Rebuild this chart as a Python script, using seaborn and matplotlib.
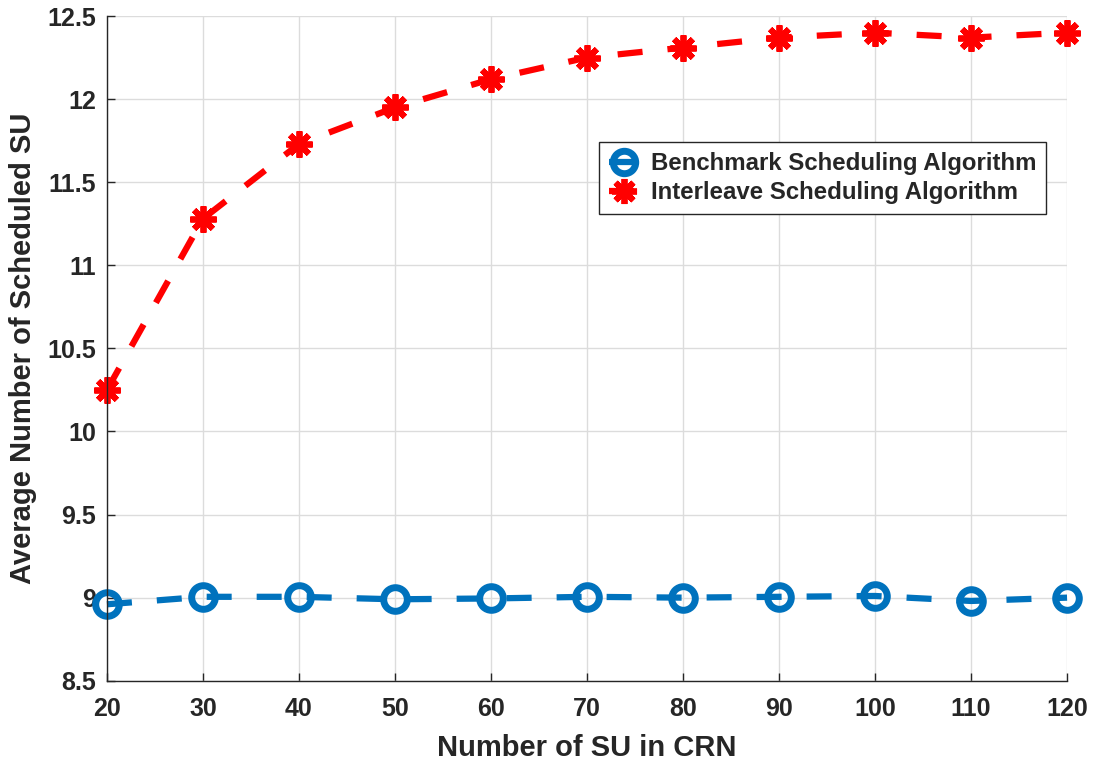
import numpy as np
import pandas as pd
import matplotlib
matplotlib.use("Agg")
import matplotlib.pyplot as plt
import seaborn as sns

num_su = [20, 30, 40, 50, 60, 70, 80, 90, 100, 110, 120]
benchmark = [8.96, 9.005, 9.005, 8.99, 8.995, 9.005, 9.0, 9.005, 9.01, 8.98, 9.0]
interleave = [10.25, 11.28, 11.73, 11.95, 12.12, 12.25, 12.31, 12.37, 12.40, 12.37, 12.40]
labels = ["Benchmark Scheduling Algorithm", "Interleave Scheduling Algorithm"]
x_ticks = [20, 30, 40, 50, 60, 70, 80, 90, 100, 110, 120]
y_ticks = [8.5, 9, 9.5, 10, 10.5, 11, 11.5, 12, 12.5]
y_tick_labels = ["8.5", "9", "9.5", "10", "10.5", "11", "11.5", "12", "12.5"]

sns.set_theme(style="white")
plt.rcParams['font.family'] = ['Liberation Sans', 'DejaVu Sans']
plt.rcParams['font.weight'] = 'bold'

fig = plt.figure(figsize=(10.97, 7.64), dpi=100)
ax = fig.add_axes([0.0975, 0.109, 0.8752, 0.870])

df_b = pd.DataFrame({"x": num_su, "y": benchmark})
df_i = pd.DataFrame({"x": num_su, "y": interleave})

dash = (0, (4, 4))
sns.lineplot(data=df_b, x="x", y="y", ax=ax, color="#0072BD", linestyle=dash,
             linewidth=4.5, marker="o", markersize=17, markerfacecolor="none",
             markeredgecolor="#0072BD", markeredgewidth=5, label=labels[0], clip_on=False)
sns.lineplot(data=df_i, x="x", y="y", ax=ax, color="#FF0000", linestyle=dash,
             linewidth=4.5, marker=(8, 2, 0), markersize=19,
             markeredgecolor="#FF0000", markeredgewidth=4.2, label=labels[1], clip_on=False)

ax.set_xlim(20, 120)
ax.set_ylim(8.5, 12.5)
ax.set_xticks(x_ticks)
ax.set_yticks(y_ticks)
ax.set_yticklabels(y_tick_labels)
ax.grid(True, color="#dcdcdc", linewidth=1)
ax.set_axisbelow(True)
for s in ["top", "right"]:
    ax.spines[s].set_visible(False)
for s in ["left", "bottom"]:
    ax.spines[s].set_color("#262626")
    ax.spines[s].set_linewidth(1)
ax.tick_params(axis="both", direction="in", length=6, width=1, color="#262626",
               labelsize=18, labelcolor="#262626", bottom=True, left=True)
ax.tick_params(axis="x", pad=12)
ax.tick_params(axis="y", pad=8)
for t in ax.get_xticklabels() + ax.get_yticklabels():
    t.set_fontweight("bold")
ax.set_xlabel("Number of SU in CRN", fontsize=21, fontweight="bold", color="#262626", labelpad=9)
ax.set_ylabel("Average Number of Scheduled SU", fontsize=21, fontweight="bold", color="#262626", labelpad=7)

leg = ax.legend(loc="upper left", bbox_to_anchor=(0.5125, 0.81), fontsize=17.3,
                frameon=True, fancybox=False, edgecolor="#262626", framealpha=1,
                handlelength=1.3, handletextpad=0.45, borderpad=0.4, labelspacing=0.25,
                borderaxespad=0, markerscale=0.95)
leg.get_frame().set_linewidth(1)
for t in leg.get_texts():
    t.set_fontweight("bold")

fig.savefig("out.png", dpi=100)
